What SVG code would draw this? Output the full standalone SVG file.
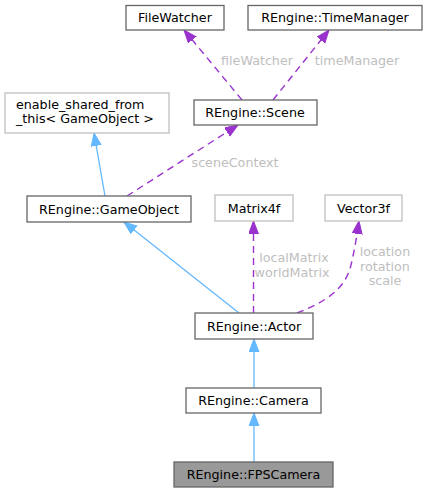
<svg xmlns="http://www.w3.org/2000/svg" width="427" height="493" viewBox="0 0 427 493">
<style>
text{font-family:"DejaVu Sans","Liberation Sans",sans-serif;font-size:12.7px;fill:#000}
.n rect{fill:#fff;stroke:#666;stroke-width:1.3}
.u rect{fill:#fff;stroke:#bfbfbf;stroke-width:1.3}
.c text{text-anchor:middle}
.inh{fill:none;stroke:#63b8ff;stroke-width:1.3}
.use{fill:none;stroke:#9a32cd;stroke-width:1.4;stroke-dasharray:7,5}
.lbl{fill:#bebebe;text-anchor:middle}
</style>
<defs>
<marker id="ab" markerUnits="userSpaceOnUse" markerWidth="14" markerHeight="11" refX="13" refY="5" orient="auto" viewBox="0 0 14 11">
<path d="M0,0 L13,5 L0,10 z" fill="#63b8ff" stroke="#63b8ff" stroke-width="1"/>
</marker>
<marker id="ap" markerUnits="userSpaceOnUse" markerWidth="14" markerHeight="11" refX="13" refY="5" orient="auto" viewBox="0 0 14 11">
<path d="M0,0 L13,5 L0,10 z" fill="#9a32cd" stroke="#9a32cd" stroke-width="1"/>
</marker>
</defs>
<g id="edges">
<path class="use" d="M242,100 L184,30" marker-end="url(#ap)"/>
<path class="use" d="M273,100 L329,30" marker-end="url(#ap)"/>
<path class="inh" d="M105,196 L94,133" marker-end="url(#ab)"/>
<path class="use" d="M127,196 L238,125" marker-end="url(#ap)"/>
<path class="inh" d="M239,313 L124,222" marker-end="url(#ab)"/>
<path class="use" d="M253.5,313 L253.5,221" marker-end="url(#ap)"/>
<path class="use" d="M297,313 C325,302 345,290 351,265 C355,248 357,235 359,221" marker-end="url(#ap)"/>
<path class="inh" d="M254,388 L254,339" marker-end="url(#ab)"/>
<path class="inh" d="M254,462 L254,413" marker-end="url(#ab)"/>
<text class="lbl" x="257" y="65">fileWatcher</text>
<text class="lbl" x="357" y="65">timeManager</text>
<text class="lbl" x="235" y="167">sceneContext</text>
<text class="lbl" x="294" y="262">localMatrix</text>
<text class="lbl" x="292" y="277">worldMatrix</text>
<text class="lbl" x="385" y="256">location</text>
<text class="lbl" x="385" y="271">rotation</text>
<text class="lbl" x="385" y="285">scale</text>
</g>
<g id="FileWatcher" class="n c"><rect x="126" y="5.5" width="98" height="24.5"/><text x="175" y="22">FileWatcher</text></g>
<g id="TimeManager" class="n c"><rect x="248" y="5.5" width="174" height="24.5"/><text x="335" y="22">REngine::TimeManager</text></g>
<g id="Scene" class="n c"><rect x="194" y="100" width="123" height="25"/><text x="255" y="117">REngine::Scene</text></g>
<g id="enable_shared" class="u"><rect x="5" y="93" width="164" height="40"/><text x="16" y="109">enable_shared_from</text><text x="16" y="123">_this&lt; GameObject &gt;</text></g>
<g id="GameObject" class="n c"><rect x="27" y="196" width="164" height="26"/><text x="109" y="213.5">REngine::GameObject</text></g>
<g id="Matrix4f" class="u c"><rect x="215" y="195" width="78" height="26"/><text x="254" y="212.5">Matrix4f</text></g>
<g id="Vector3f" class="u c"><rect x="325" y="195" width="77" height="26"/><text x="363.5" y="212.5">Vector3f</text></g>
<g id="Actor" class="n c"><rect x="195" y="313" width="118" height="26"/><text x="254" y="330.5">REngine::Actor</text></g>
<g id="Camera" class="n c"><rect x="186" y="388" width="135" height="25"/><text x="253.5" y="405">REngine::Camera</text></g>
<g id="FPSCamera" class="n c"><rect x="174" y="462" width="159" height="25" style="fill:#999"/><text x="253.5" y="479">REngine::FPSCamera</text></g>
</svg>
